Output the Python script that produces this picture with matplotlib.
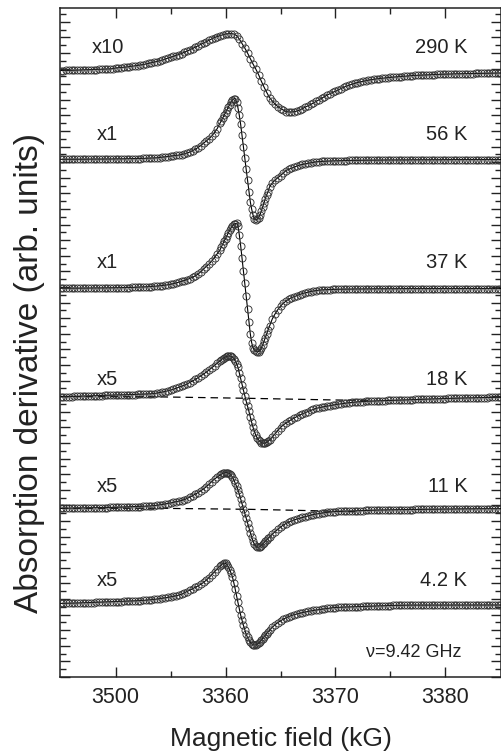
import numpy as np
import matplotlib
matplotlib.use("Agg")
import matplotlib.pyplot as plt
from matplotlib.ticker import MultipleLocator, FixedLocator, NullFormatter

plt.rcParams['font.family'] = ['Liberation Sans', 'DejaVu Sans']

# --- data -------------------------------------------------------------
# field sampling: 290 K uses one uniform scan, the low-T scans are sampled
# finer through the resonance (segments: start, step)
field_290 = (3345.0, 0.25)
seg_start = [3345.0, 3359.5, 3364.0]
seg_step = [0.25, 0.125, 0.25]

s290 = [2.5, 2.5, 2.6, 2.6, 2.7, 2.7, 2.8, 2.9, 3.0, 3.1, 3.2, 3.3, 3.4, 3.5, 3.6, 3.7, 3.8, 3.9, 4.1, 4.4,
        5.0, 5.3, 5.5, 5.8, 6.0, 6.4, 6.8, 7.1, 7.5, 7.9, 8.4, 9.0, 9.7, 10.3, 10.9, 11.5, 12.2, 13.0, 13.9, 14.8,
        15.7, 16.6, 17.5, 18.5, 19.5, 20.7, 21.9, 23.2, 24.5, 25.9, 27.2, 28.6, 30.0, 31.4, 32.8, 34.2, 35.5, 36.5, 37.4, 38.2,
        39.0, 39.3, 39.5, 39.0, 37.5, 34.0, 29.5, 25.0, 20.0, 14.5, 9.0, 4.0, -1.5, -8.0, -14.0, -19.5, -24.5, -28.0, -31.0, -33.5,
        -35.5, -37.0, -38.5, -39.0, -39.0, -38.7, -38.0, -37.0, -35.5, -34.2, -32.8, -31.4, -30.0, -28.4, -26.8, -25.2, -23.5, -22.0, -20.7, -19.3,
        -18.0, -16.7, -15.5, -14.2, -13.0, -12.1, -11.2, -10.3, -9.5, -8.9, -8.2, -7.6, -7.0, -6.6, -6.2, -5.9, -5.5, -5.2, -4.9, -4.6,
        -4.3, -4.1, -3.9, -3.7, -3.5, -3.3, -3.0, -2.8, -2.5, -2.4, -2.3, -2.1, -2.0, -1.9, -1.8, -1.6, -1.5, -1.4, -1.3, -1.1,
        -1.0, -0.95, -0.9, -0.85, -0.8, -0.75, -0.7, -0.65, -0.6, -0.55, -0.5, -0.45, -0.4, -0.35, -0.3, -0.25, -0.2, -0.15, -0.1, -0.05,
        0.0]

s56_a = [0.2, 0.2, 0.2, 0.2, 0.3, 0.3, 0.3, 0.3, 0.3, 0.3, 0.4, 0.4, 0.4, 0.4, 0.4, 0.5, 0.5, 0.5, 0.5, 0.6,
         0.6, 0.6, 0.7, 0.7, 0.8, 0.8, 0.9, 0.9, 1.0, 1.0, 1.1, 1.1, 1.2, 1.3, 1.5, 1.7, 2.0, 2.3, 2.6, 3.0,
         3.4, 3.8, 4.1, 4.4, 5.0, 5.6, 6.5, 7.5, 8.8, 10.2, 12.0, 14.0, 16.2, 18.5, 20.8, 23.5, 27.0, 31.0]
s56_b = [36.3, 38.8, 41.5, 44.1, 46.9, 49.7, 52.3, 55.0, 57.6, 59.4, 60.7, 61.0, 57.5, 52.0, 44.5, 35.2, 24.5, 13.0,
         1.5, -9.5, -20.5, -32.0, -42.0, -49.5, -55.5, -59.6, -60.5, -59.8, -58.3, -55.5, -51.8, -47.5, -43.0, -39.0, -35.2, -32.0]
s56_c = [-27.5, -23.5, -20.6, -18.3, -16.0, -13.7, -11.0, -9.8, -8.6, -7.6, -6.6, -5.5, -4.9, -4.2, -3.8, -3.3, -2.9, -2.3, -2.1, -1.9,
         -1.7, -1.6, -1.5, -1.4, -1.3, -1.2, -1.1, -1.0, -1.0, -0.9, -0.9, -0.8, -0.8, -0.8, -0.7, -0.7, -0.7, -0.6, -0.6, -0.6,
         -0.6, -0.5, -0.5, -0.5, -0.5, -0.5, -0.4, -0.4, -0.4, -0.4, -0.4, -0.3, -0.3, -0.3, -0.3, -0.3, -0.3, -0.2, -0.2, -0.2,
         -0.2, -0.2, -0.2, -0.2, -0.2, -0.1, -0.1, -0.1, -0.1, -0.1, -0.1, -0.1, -0.1, 0.0, 0.0, 0.0, 0.0, 0.0, 0.0, 0.0,
         0.0, 0.0, 0.0, 0.0, 0.0]

s37_a = [0.3, 0.3, 0.3, 0.3, 0.3, 0.4, 0.4, 0.4, 0.4, 0.4, 0.5, 0.5, 0.5, 0.5, 0.6, 0.6, 0.6, 0.7, 0.7, 0.7,
         0.8, 0.8, 0.9, 0.9, 1.0, 1.0, 1.1, 1.2, 1.3, 1.4, 1.5, 1.6, 1.8, 2.0, 2.2, 2.4, 2.7, 3.0, 3.3, 3.7,
         4.2, 4.8, 5.5, 6.4, 7.2, 8.0, 8.9, 10.0, 11.2, 12.7, 14.3, 16.8, 19.5, 22.0, 24.5, 27.5, 31.0, 34.8]
s37_b = [38.7, 41.5, 44.5, 47.5, 50.0, 52.8, 55.5, 58.2, 60.5, 62.7, 64.2, 65.0, 65.2, 63.0, 54.0, 43.0, 30.5, 18.0,
         5.5, -7.5, -20.0, -33.0, -45.0, -54.0, -59.3, -61.5, -62.7, -63.2, -63.0, -61.8, -59.5, -56.5, -52.8, -49.0, -45.0, -41.3]
s37_c = [-37.7, -30.5, -25.5, -21.2, -17.6, -14.8, -12.6, -10.6, -9.2, -8.1, -7.1, -6.0, -5.0, -4.3, -3.6, -3.0, -2.5, -2.0, -1.6, -1.4,
         -1.2, -1.1, -1.0, -0.9, -0.8, -0.8, -0.7, -0.7, -0.6, -0.6, -0.5, -0.5, -0.5, -0.4, -0.4, -0.4, -0.4, -0.3, -0.3, -0.3,
         -0.3, -0.3, -0.2, -0.2, -0.2, -0.2, -0.2, -0.2, -0.1, -0.1, -0.1, -0.1, -0.1, -0.1, -0.1, -0.1, 0.0, 0.0, 0.0, 0.0,
         0.0, 0.0, 0.0, 0.0, 0.0, 0.0, 0.0, 0.0, 0.0, 0.0, 0.0, 0.0, 0.0, 0.0, 0.0, 0.0, 0.0, 0.0, 0.0, 0.0,
         0.0, 0.0, 0.0, 0.0, 0.0]

s18_a = [0.3, 0.4, 0.4, 0.5, 0.5, 0.6, 0.7, 0.7, 0.8, 0.9, 1.0, 1.1, 1.2, 1.3, 1.4, 1.5, 1.6, 1.7, 1.8, 1.9,
         2.0, 2.1, 2.1, 2.2, 2.3, 2.3, 2.4, 2.5, 2.6, 2.7, 2.8, 2.9, 3.0, 3.2, 3.5, 3.9, 4.4, 4.9, 5.5, 6.2,
         7.0, 7.8, 8.7, 9.7, 10.6, 11.8, 13.0, 14.5, 16.0, 17.6, 19.3, 21.0, 22.9, 24.9, 27.0, 29.2, 31.5, 33.8]
s18_b = [36.2, 37.4, 38.5, 39.4, 40.1, 40.6, 41.0, 41.0, 40.7, 39.9, 38.5, 36.4, 33.4, 30.0, 24.2, 18.6, 12.5, 7.0,
         1.5, -4.0, -9.0, -14.3, -19.8, -25.3, -30.2, -34.5, -38.2, -40.8, -42.8, -44.4, -45.5, -46.2, -46.3, -45.9, -45.2, -44.2]
s18_c = [-43.0, -40.2, -36.8, -33.5, -30.5, -28.0, -26.0, -24.2, -22.5, -21.0, -19.5, -18.0, -16.8, -15.6, -14.5, -13.4, -12.3, -11.3, -10.7, -10.1,
         -9.6, -9.1, -8.6, -8.1, -7.6, -7.2, -6.8, -6.4, -6.0, -5.7, -5.4, -5.1, -4.9, -4.7, -4.5, -4.3, -4.2, -4.1, -3.9, -3.8,
         -3.7, -3.6, -3.5, -3.4, -3.3, -3.2, -3.1, -3.0, -2.9, -2.8, -2.7, -2.6, -2.5, -2.4, -2.3, -2.2, -2.2, -2.1, -2.0, -1.9,
         -1.8, -1.7, -1.7, -1.6, -1.5, -1.4, -1.4, -1.3, -1.2, -1.1, -1.1, -1.0, -0.9, -0.9, -0.8, -0.7, -0.7, -0.6, -0.5, -0.5,
         -0.4, -0.4, -0.3, -0.3, -0.3]
base18_field = [3345, 3353, 3362, 3370, 3373]
base18 = [0.4, 0.3, -1.3, -3.0, -3.3]

s11_a = [0.2, 0.2, 0.3, 0.3, 0.4, 0.4, 0.5, 0.5, 0.6, 0.6, 0.7, 0.7, 0.8, 0.8, 0.9, 0.9, 1.0, 1.0, 1.1, 1.1,
         1.2, 1.3, 1.3, 1.4, 1.5, 1.6, 1.7, 1.8, 1.9, 2.0, 2.1, 2.2, 2.4, 2.6, 2.9, 3.2, 3.6, 4.0, 4.5, 5.0,
         5.6, 6.2, 6.8, 7.4, 8.0, 8.9, 10.0, 11.3, 12.8, 14.3, 15.9, 17.6, 19.6, 21.8, 24.2, 27.0, 29.5, 31.5]
s11_b = [33.4, 34.4, 35.1, 35.6, 35.9, 35.9, 35.6, 34.8, 33.5, 31.5, 28.8, 25.6, 22.5, 19.0, 14.5, 9.5, 4.8, 0.0,
         -4.8, -9.6, -14.5, -19.3, -24.0, -28.5, -32.5, -35.8, -37.8, -38.7, -38.7, -38.2, -37.2, -35.8, -34.0, -32.6, -31.2, -29.8]
s11_c = [-28.4, -25.7, -23.2, -20.8, -18.6, -16.5, -15.0, -13.6, -12.4, -11.3, -10.5, -9.8, -8.9, -8.1, -7.4, -6.7, -6.0, -5.5, -5.0, -4.6,
         -4.2, -3.8, -3.5, -3.2, -3.0, -2.9, -2.8, -2.7, -2.6, -2.5, -2.4, -2.3, -2.2, -2.1, -2.0, -1.9, -1.8, -1.7, -1.7, -1.6,
         -1.5, -1.5, -1.4, -1.4, -1.3, -1.3, -1.2, -1.2, -1.1, -1.1, -1.0, -1.0, -1.0, -0.9, -0.9, -0.9, -0.8, -0.8, -0.8, -0.7,
         -0.7, -0.7, -0.6, -0.6, -0.6, -0.5, -0.5, -0.5, -0.4, -0.4, -0.4, -0.4, -0.3, -0.3, -0.3, -0.3, -0.2, -0.2, -0.2, -0.2,
         -0.2, -0.2, -0.2, -0.2, -0.2]
base11_field = [3345, 3354, 3362, 3366, 3372]
base11 = [0.2, 0.2, -0.8, -1.7, -3.3]

s4_a = [0.6, 0.7, 0.7, 0.8, 0.8, 0.9, 1.0, 1.0, 1.1, 1.2, 1.3, 1.4, 1.5, 1.6, 1.7, 1.8, 1.9, 2.0, 2.1, 2.2,
        2.3, 2.4, 2.5, 2.6, 2.7, 2.8, 2.9, 3.0, 3.2, 3.4, 3.6, 3.8, 4.0, 4.3, 4.6, 4.9, 5.3, 5.7, 6.1, 6.6,
        7.1, 7.6, 8.2, 8.9, 9.8, 11.1, 12.4, 13.8, 15.2, 16.6, 18.1, 19.7, 21.6, 23.8, 26.5, 29.4, 32.3, 35.2]
s4_b = [38.0, 39.3, 40.4, 40.8, 40.6, 39.5, 37.2, 34.3, 31.0, 27.3, 21.5, 15.2, 8.3, 1.8, -4.6, -11.0, -16.3, -21.3,
        -25.8, -30.0, -33.4, -36.2, -38.2, -39.6, -40.5, -41.0, -40.9, -40.3, -39.2, -37.8, -36.2, -34.5, -32.8, -31.1, -29.5, -27.8]
s4_c = [-26.2, -23.3, -20.8, -18.6, -16.8, -15.2, -13.8, -12.6, -11.5, -10.6, -9.9, -9.3, -8.6, -8.0, -7.4, -6.9, -6.4, -6.0, -5.6, -5.2,
        -4.8, -4.4, -4.0, -3.7, -3.5, -3.3, -3.2, -3.1, -3.0, -2.9, -2.8, -2.7, -2.6, -2.5, -2.4, -2.3, -2.2, -2.1, -2.0, -1.9,
        -1.8, -1.7, -1.6, -1.5, -1.5, -1.4, -1.4, -1.3, -1.3, -1.2, -1.2, -1.1, -1.1, -1.1, -1.0, -1.0, -1.0, -1.0, -1.0, -1.0,
        -1.0, -1.0, -1.0, -1.0, -1.0, -1.0, -1.0, -1.0, -1.0, -1.0, -1.0, -1.0, -1.0, -1.0, -1.0, -1.0, -1.0, -1.0, -1.0, -1.0,
        -1.0, -1.0, -1.0, -1.0, -1.0]

# vertical offset of each trace in the stack
offsets = [604, 517.5, 388.5, 280, 168.5, 73]
temps = ['290 K', '56 K', '37 K', '18 K', '11 K', '4.2 K']
gains = ['x10', 'x1', 'x1', 'x5', 'x5', 'x5']


def scan(parts):
    """build (field, signal) from segments of equally spaced samples"""
    xs, ys = [], []
    for (start, step), vals in parts:
        xs.append(start + step * np.arange(len(vals)))
        ys.append(np.array(vals))
    return np.concatenate(xs), np.concatenate(ys)


segs = list(zip(seg_start, seg_step))
traces = [
    scan([(field_290, s290)]),
    scan(list(zip(segs, [s56_a, s56_b, s56_c]))),
    scan(list(zip(segs, [s37_a, s37_b, s37_c]))),
    scan(list(zip(segs, [s18_a, s18_b, s18_c]))),
    scan(list(zip(segs, [s11_a, s11_b, s11_c]))),
    scan(list(zip(segs, [s4_a, s4_b, s4_c]))),
]

# --- figure -----------------------------------------------------------
fig = plt.figure(figsize=(5.02, 7.54), dpi=100)
ax = fig.add_axes([60 / 502, 1 - 677 / 754, 441 / 502, 669 / 754])

for (x, y), off in zip(traces, offsets):
    ax.plot(x, y + off, color='black', lw=0.8, marker='o', ms=5.1,
            mfc='none', mec='#333333', mew=0.65, zorder=3)

ax.plot(base18_field, np.array(base18) + offsets[3], color='black', lw=0.9,
        ls=(0, (6, 4)), zorder=2)
ax.plot(base11_field, np.array(base11) + offsets[4], color='black', lw=0.9,
        ls=(0, (6, 4)), zorder=2)

# labels next to each trace
text_y = [624, 537, 409, 292, 185, 91]
for g, t, ty in zip(gains, temps, text_y):
    ax.text(3349.3, ty, g, fontsize=14.5, ha='center', va='baseline', color='#222222')
    ax.text(3382.0, ty, t, fontsize=14.5, ha='right', va='baseline', color='#222222')
ax.text(3377.1, 20, 'ν=9.42 GHz', fontsize=13, ha='center', va='baseline', color='#222222')

ax.set_xlim(3344.95, 3385.05)
ax.set_ylim(0, 669)
ax.xaxis.set_major_locator(FixedLocator([3350, 3360, 3370, 3380]))
ax.set_xticklabels(['3500', '3360', '3370', '3380'])
ax.xaxis.set_minor_locator(FixedLocator([3355, 3365, 3375]))
ax.yaxis.set_major_locator(MultipleLocator(15.6))
ax.yaxis.set_minor_locator(MultipleLocator(7.8))
ax.yaxis.set_major_formatter(NullFormatter())

ax.tick_params(which='both', direction='in', top=True, right=True, width=1.0, color='#222222')
ax.tick_params(which='major', length=7, labelsize=15.5, pad=7, labelcolor='#222222')
ax.tick_params(which='minor', length=4)
for sp in ax.spines.values():
    sp.set_linewidth(1.1)
    sp.set_color('#222222')

ax.set_xlabel('Magnetic field (kG)', fontsize=19, labelpad=14, color='#222222')
fig.text(30 / 502, 1 - 373 / 754, 'Absorption derivative (arb. units)', rotation=90,
         fontsize=24, ha='center', va='center', color='#222222')

fig.savefig('out.png', dpi=100)
